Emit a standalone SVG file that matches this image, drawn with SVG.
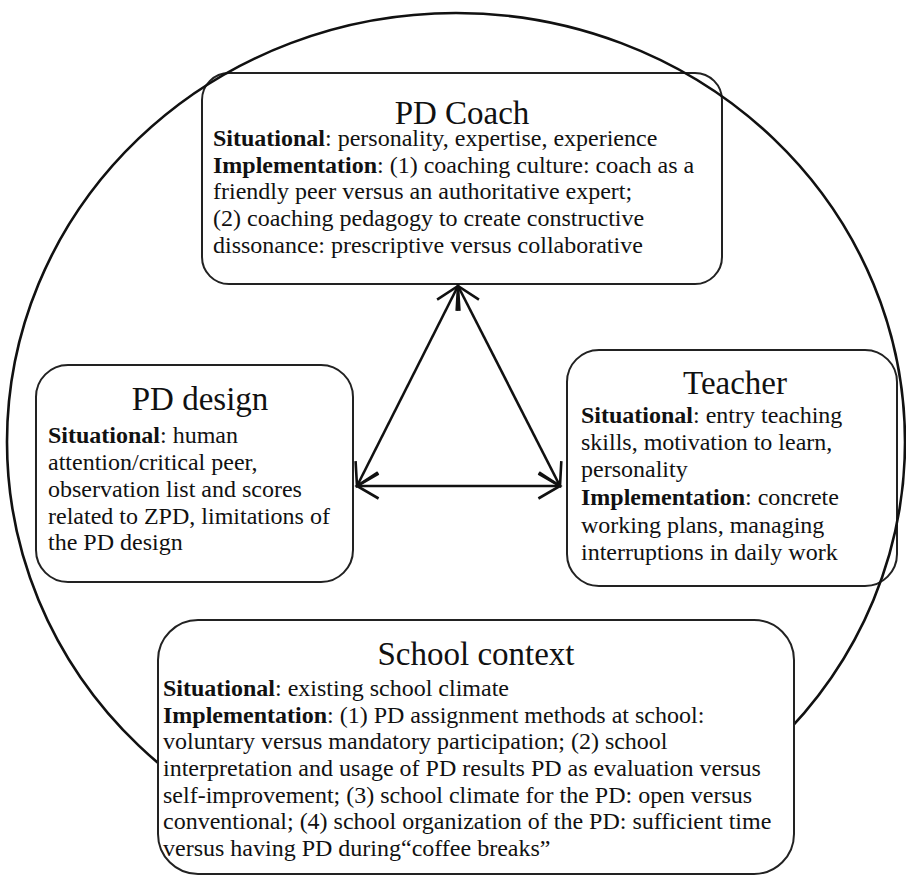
<svg xmlns="http://www.w3.org/2000/svg" width="906" height="879" viewBox="0 0 906 879">
<defs>
<style>
.box{fill:#fff;stroke:#222;stroke-width:2}
.ring{fill:none;stroke:#111;stroke-width:2.6}
.ttl{font-family:"Liberation Serif","Times New Roman",serif;font-size:33px;fill:#111;text-anchor:middle}
.tx{font-family:"Liberation Serif","Times New Roman",serif;font-size:24px;fill:#111}
.b{font-weight:bold}
.conn{stroke:#111;stroke-width:2.6;fill:none;marker-start:url(#arr);marker-end:url(#arr)}
</style>
<marker id="arr" markerUnits="userSpaceOnUse" viewBox="-26 -16 30 32" refX="0" refY="0" markerWidth="30" markerHeight="32" orient="auto-start-reverse">
<path d="M-21.6,-12.5 L0,0 L-21.6,12.5" fill="none" stroke="#111" stroke-width="2.6"/>
</marker>
</defs>
<rect width="906" height="879" fill="#fff"/>

<g id="pd-coach" font-family="Liberation Serif, Times New Roman, serif">
<rect class="box" x="202" y="73" width="520" height="211" rx="27" ry="27"/>
<text class="ttl" x="462" y="124">PD Coach</text>
<text class="tx" x="213" y="146"><tspan class="b">Situational</tspan>: personality, expertise, experience</text>
<text class="tx" x="213" y="172.7"><tspan class="b">Implementation</tspan>: (1) coaching culture: coach as a</text>
<text class="tx" x="213" y="199.3">friendly peer versus an authoritative expert;</text>
<text class="tx" x="213" y="226">(2) coaching pedagogy to create constructive</text>
<text class="tx" x="213" y="252.7">dissonance: prescriptive versus collaborative</text>
</g>

<g id="pd-design" font-family="Liberation Serif, Times New Roman, serif">
<rect class="box" x="36" y="365" width="317" height="217" rx="32" ry="32"/>
<text class="ttl" x="200" y="410">PD design</text>
<text class="tx" x="48" y="443"><tspan class="b">Situational</tspan>: human</text>
<text class="tx" x="48" y="470">attention/critical peer,</text>
<text class="tx" x="48" y="497">observation list and scores</text>
<text class="tx" x="48" y="524">related to ZPD, limitations of</text>
<text class="tx" x="48" y="550">the PD design</text>
</g>

<g id="teacher" font-family="Liberation Serif, Times New Roman, serif">
<rect class="box" x="567" y="350" width="330" height="236" rx="32" ry="32"/>
<text class="ttl" x="735" y="394">Teacher</text>
<text class="tx" x="581" y="423"><tspan class="b">Situational</tspan>: entry teaching</text>
<text class="tx" x="581" y="450">skills, motivation to learn,</text>
<text class="tx" x="581" y="477">personality</text>
<text class="tx" x="581" y="505"><tspan class="b">Implementation</tspan>: concrete</text>
<text class="tx" x="581" y="533">working plans, managing</text>
<text class="tx" x="581" y="560">interruptions in daily work</text>
</g>

<ellipse id="outer-circle" class="ring" cx="456" cy="442" rx="449" ry="429"/>

<g id="school-context" font-family="Liberation Serif, Times New Roman, serif">
<rect class="box" x="158" y="620" width="636" height="254" rx="40" ry="40"/>
<text class="ttl" x="476" y="665">School context</text>
<text class="tx" x="163" y="696"><tspan class="b">Situational</tspan>: existing school climate</text>
<text class="tx" x="163" y="723"><tspan class="b">Implementation</tspan>: (1) PD assignment methods at school:</text>
<text class="tx" x="163" y="749">voluntary versus mandatory participation; (2) school</text>
<text class="tx" x="163" y="776">interpretation and usage of PD results PD as evaluation versus</text>
<text class="tx" x="163" y="803">self-improvement; (3) school climate for the PD: open versus</text>
<text class="tx" x="163" y="829">conventional; (4) school organization of the PD: sufficient time</text>
<text class="tx" x="163" y="856">versus having PD during“coffee breaks”</text>
</g>

<g id="connectors">
<line class="conn" x1="458" y1="286" x2="357" y2="486"/>
<line class="conn" x1="458" y1="286" x2="560" y2="486"/>
<line class="conn" x1="357" y1="486" x2="560" y2="486"/>
</g>
</svg>
